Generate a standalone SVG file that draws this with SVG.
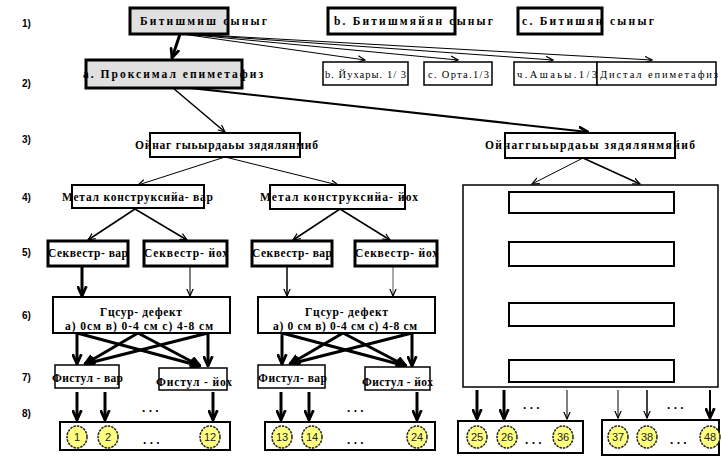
<svg xmlns="http://www.w3.org/2000/svg" width="721" height="457" viewBox="0 0 721 457">
<defs>
<marker id="a1" viewBox="0 0 10 10" refX="9" refY="5" markerWidth="8" markerHeight="8" markerUnits="userSpaceOnUse" orient="auto"><path d="M0,1 L9,5 L0,9" fill="none" stroke="#000" stroke-width="1.5"/></marker>
<marker id="a2" viewBox="0 0 10 10" refX="9" refY="5" markerWidth="11" markerHeight="11" markerUnits="userSpaceOnUse" orient="auto"><path d="M0,1 L9,5 L0,9" fill="none" stroke="#000" stroke-width="2.5"/></marker>
</defs>
<style>
.lbl{font-family:"Liberation Sans",Arial,sans-serif;font-weight:bold;font-size:10px;fill:#000}
.t{font-family:"Liberation Serif","Times New Roman",serif;font-weight:bold;font-size:11.5px;fill:#000}
.tn{font-family:"Liberation Serif","Times New Roman",serif;font-size:10.5px;fill:#000}
.g{fill:#e0e0e0;stroke:#000;stroke-width:3}
.b3{fill:#fff;stroke:#000;stroke-width:3}
.b2{fill:#fff;stroke:#000;stroke-width:2}
.b1{fill:#fff;stroke:#000;stroke-width:1.5}
.c{fill:#ffff80;stroke:#222;stroke-width:1.5;stroke-dasharray:2.5 1}
.n{font-family:"Liberation Sans",Arial,sans-serif;font-size:11px;fill:#222;text-anchor:middle}
.d{font-family:"Liberation Sans",Arial,sans-serif;font-size:12px;font-weight:bold;fill:#000}
.l1{stroke:#000;stroke-width:1;fill:none;marker-end:url(#a1)}
.l15{stroke:#000;stroke-width:1.5;fill:none;marker-end:url(#a1)}
.l2{stroke:#000;stroke-width:2;fill:none;marker-end:url(#a2)}
.l3{stroke:#000;stroke-width:3;fill:none;marker-end:url(#a2)}
</style>
<rect width="721" height="457" fill="#fff"/>

<g id="row-labels">
<text class="lbl" x="22" y="27">1)</text>
<text class="lbl" x="22" y="87">2)</text>
<text class="lbl" x="22" y="143">3)</text>
<text class="lbl" x="22" y="201">4)</text>
<text class="lbl" x="22" y="256">5)</text>
<text class="lbl" x="22" y="319">6)</text>
<text class="lbl" x="22" y="381">7)</text>
<text class="lbl" x="22" y="417">8)</text>
</g>

<g id="connectors">
<path class="l3" d="M180,34 L172,58"/>
<path class="l1" d="M182,34 L365,60"/>
<path class="l1" d="M184,34 L458,60"/>
<path class="l1" d="M186,34 L553,60"/>
<path class="l1" d="M188,34 L652,60"/>
<path class="l15" d="M173,88 L225,132"/>
<path class="l2" d="M190,88 L588,132"/>
<path class="l1" d="M225,157 L138,185"/>
<path class="l1" d="M225,157 L338,185"/>
<path class="l1" d="M583,158 L532,184"/>
<path class="l15" d="M583,158 L640,184"/>
<path class="l15" d="M135,209 L88,240"/>
<path class="l15" d="M135,209 L187,240"/>
<path class="l15" d="M340,209 L293,240"/>
<path class="l15" d="M340,209 L390,240"/>
<path class="l3" d="M82,266 L82,296"/>
<path class="l1" d="M190,266 L190,296"/>
<path class="l15" d="M287,266 L287,296"/>
<path class="l1" d="M393,266 L393,296" style="stroke:#555"/>
<path class="l3" d="M77,333 L77,364"/>
<path class="l3" d="M77,333 L200,366"/>
<path class="l3" d="M138,333 L85,364"/>
<path class="l3" d="M138,333 L200,366"/>
<path class="l3" d="M208,333 L85,364"/>
<path class="l3" d="M208,333 L208,366"/>
<path class="l3" d="M282,333 L282,364"/>
<path class="l3" d="M282,333 L406,366"/>
<path class="l3" d="M343,333 L290,364"/>
<path class="l3" d="M343,333 L406,366"/>
<path class="l3" d="M412,333 L290,364"/>
<path class="l3" d="M412,333 L412,366"/>
<path class="l3" d="M77,392 L77,420"/>
<path class="l3" d="M105,392 L105,420"/>
<path class="l3" d="M213,392 L213,420"/>
<path class="l3" d="M281,392 L281,420"/>
<path class="l3" d="M309,392 L309,420"/>
<path class="l3" d="M417,392 L417,420"/>
<path class="l3" d="M477,390 L477,419"/>
<path class="l3" d="M504,390 L504,419"/>
<path class="l1" d="M567,390 L567,419"/>
<path class="l1" d="M618,390 L618,418"/>
<path class="l15" d="M647,390 L647,418"/>
<path class="l2" d="M710,390 L710,418"/>
</g>

<g id="n-bitishmish"><rect class="g" x="130" y="8" width="98" height="26"/><text class="t" x="140" y="25" textLength="127" lengthAdjust="spacing">Битишмиш сыныг</text></g>
<g id="n-bitishmyayan"><rect class="b3" x="328" y="8" width="127" height="26"/><text class="t" x="334" y="25" textLength="159" lengthAdjust="spacing">b. Битишмяйян сыныг</text></g>
<g id="n-bitishyan"><rect class="b3" x="518" y="8" width="84" height="26"/><text class="t" x="522" y="25" textLength="132" lengthAdjust="spacing">с. Битишян сыныг</text></g>

<g id="n-proksimal"><rect class="g" x="86" y="60" width="156" height="28"/><text class="t" x="83" y="78" textLength="180" lengthAdjust="spacing">a. Проксимал епиметафиз</text></g>
<g id="n-yuxari"><rect class="b1" x="323" y="62" width="85" height="23"/><text class="tn" x="325" y="78" textLength="81" lengthAdjust="spacing">b. Йухары. 1/ 3</text></g>
<g id="n-orta"><rect class="b1" x="424" y="62" width="68" height="23"/><text class="tn" x="428" y="78" textLength="61" lengthAdjust="spacing">c. Орта.1/3</text></g>
<g id="n-ashagi"><rect class="b1" x="514" y="62" width="83" height="23"/><text class="tn" x="517" y="78" textLength="80" lengthAdjust="spacing">ч.Ашаьы.1/3</text></g>
<g id="n-distal"><rect class="b1" x="597" y="62" width="119" height="23"/><text class="tn" x="600" y="78" textLength="118" lengthAdjust="spacing">Дистал епиметафиз</text></g>

<g id="n-oynag1"><rect class="b2" x="150" y="133" width="150" height="24"/><text class="t" x="135" y="149" textLength="183" lengthAdjust="spacing">Ойнаг гыьырдаьы зядялянмиб</text></g>
<g id="n-oynag2"><rect class="b2" x="505" y="133" width="170" height="25"/><text class="t" x="485" y="149" textLength="210" lengthAdjust="spacing">Ойнаггыьырдаьы зядялянмяйиб</text></g>

<g id="n-metal1"><rect class="b2" x="72" y="185" width="132" height="23"/><text class="t" x="62" y="201" textLength="151" lengthAdjust="spacing">Метал конструксийа- вар</text></g>
<g id="n-metal2"><rect class="b2" x="270" y="185" width="135" height="24"/><text class="t" x="260" y="201" textLength="158" lengthAdjust="spacing">Метал конструксийа- йох</text></g>

<g id="n-sek1"><rect class="b3" x="48" y="241" width="80" height="25"/><text class="t" x="48" y="257" textLength="80" lengthAdjust="spacing">Секвестр- вар</text></g>
<g id="n-sek2"><rect class="b3" x="144" y="241" width="83" height="25"/><text class="t" x="144" y="257" textLength="84" lengthAdjust="spacing">Секвестр- йох</text></g>
<g id="n-sek3"><rect class="b3" x="252" y="241" width="80" height="25"/><text class="t" x="252" y="257" textLength="80" lengthAdjust="spacing">Секвестр- вар</text></g>
<g id="n-sek4"><rect class="b3" x="355" y="241" width="82" height="25"/><text class="t" x="355" y="257" textLength="83" lengthAdjust="spacing">Секвестр- йох</text></g>

<g id="n-defekt1"><rect class="b2" x="53" y="297" width="177" height="36"/><text class="t" x="100" y="316" textLength="82" lengthAdjust="spacing">Гцсур- дефект</text><text class="t" x="65" y="330" textLength="148" lengthAdjust="spacing">a) 0см   в) 0-4 см   с) 4-8 см</text></g>
<g id="n-defekt2"><rect class="b2" x="258" y="297" width="177" height="36"/><text class="t" x="305" y="316" textLength="83" lengthAdjust="spacing">Гцсур- дефект</text><text class="t" x="273" y="330" textLength="144" lengthAdjust="spacing">a) 0 см   в) 0-4 см с) 4-8 см</text></g>

<g id="n-fistul1"><rect class="b1" x="55" y="365" width="64" height="23"/><text class="t" x="52" y="382" textLength="71" lengthAdjust="spacing">Фистул - вар</text></g>
<g id="n-fistul2"><rect class="b1" x="159" y="368" width="68" height="22"/><text class="t" x="156" y="386" textLength="76" lengthAdjust="spacing">Фистул - йох</text></g>
<g id="n-fistul3"><rect class="b1" x="258" y="365" width="67" height="23"/><text class="t" x="258" y="382" textLength="69" lengthAdjust="spacing">Фистул- вар</text></g>
<g id="n-fistul4"><rect class="b1" x="365" y="367" width="65" height="23"/><text class="t" x="362" y="386" textLength="71" lengthAdjust="spacing">Фистул - йох</text></g>

<g id="n-bigbox"><rect class="b1" x="463" y="185" width="255" height="202"/>
<rect class="b2" x="509" y="192" width="165" height="21"/>
<rect class="b2" x="509" y="242" width="165" height="24"/>
<rect class="b2" x="509" y="303" width="165" height="23"/>
<rect class="b2" x="509" y="360" width="165" height="22"/></g>

<g id="dots-arrows">
<text class="d" x="142" y="412">. . .</text>
<text class="d" x="347" y="412">. . .</text>
<text class="d" x="523" y="409">. . .</text>
<text class="d" x="667" y="409">. . .</text>
</g>

<g id="n-out1"><rect class="b2" x="60" y="422" width="170" height="28"/>
<ellipse class="c" cx="77" cy="437" rx="10" ry="11"/><text class="n" x="77" y="441">1</text>
<ellipse class="c" cx="108" cy="437" rx="10" ry="11"/><text class="n" x="108" y="441">2</text>
<text class="d" x="143" y="444">. . .</text>
<ellipse class="c" cx="210" cy="437" rx="10" ry="11"/><text class="n" x="210" y="441">12</text></g>
<g id="n-out2"><rect class="b2" x="265" y="422" width="170" height="28"/>
<ellipse class="c" cx="282" cy="437" rx="10" ry="11"/><text class="n" x="282" y="441">13</text>
<ellipse class="c" cx="312" cy="437" rx="10" ry="11"/><text class="n" x="312" y="441">14</text>
<text class="d" x="347" y="444">. . .</text>
<ellipse class="c" cx="417" cy="437" rx="10" ry="11"/><text class="n" x="417" y="441">24</text></g>
<g id="n-out3"><rect class="b2" x="458" y="421" width="125" height="32"/>
<ellipse class="c" cx="477" cy="437" rx="10" ry="11"/><text class="n" x="477" y="441">25</text>
<ellipse class="c" cx="507" cy="437" rx="10" ry="11"/><text class="n" x="507" y="441">26</text>
<text class="d" x="525" y="444">. . .</text>
<ellipse class="c" cx="563" cy="437" rx="10" ry="11"/><text class="n" x="563" y="441">36</text></g>
<g id="n-out4"><rect class="b2" x="602" y="420" width="117" height="35"/>
<ellipse class="c" cx="618" cy="437" rx="10" ry="11"/><text class="n" x="618" y="441">37</text>
<ellipse class="c" cx="647" cy="437" rx="10" ry="11"/><text class="n" x="647" y="441">38</text>
<text class="d" x="670" y="444">. . .</text>
<ellipse class="c" cx="710" cy="437" rx="10" ry="11"/><text class="n" x="710" y="441">48</text></g>
</svg>
